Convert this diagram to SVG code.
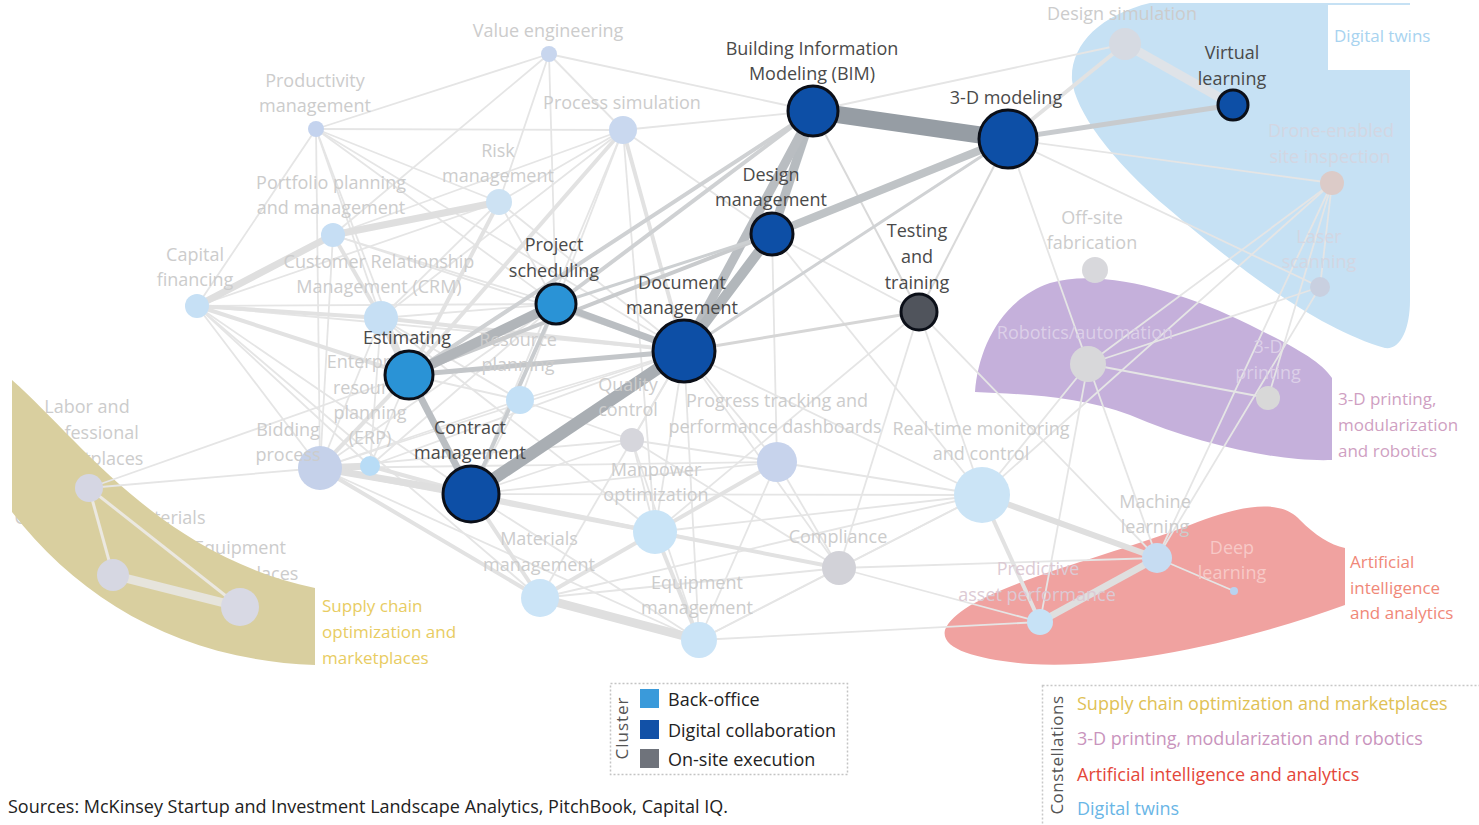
<svg xmlns="http://www.w3.org/2000/svg" width="1479" height="825" viewBox="0 0 1479 825">
<style>
text{font-family:"Open Sans","Noto Sans","DejaVu Sans",sans-serif}
.lb{font-size:18px;fill:#4a4a4a;text-anchor:middle}
.fl{font-size:18px;fill:#cccccc;text-anchor:middle}
.f1 line{stroke:#e5e5e5;stroke-width:1.8}
.f2 line{stroke:#e2e2e2;stroke-width:4}
.f3 line{stroke:#dfdfdf;stroke-width:7}
.mn{stroke-width:3;stroke:#0b0f18}
.fd{stroke:none}
.lg{font-size:18px;fill:#222}
.cl{font-size:17px}
</style>
<rect width="1479" height="825" fill="#ffffff"/>

<g id="hidden-labels">
<text class="fl" x="87" y="413">Labor and</text>
<text class="fl" x="87" y="439">professional</text>
<text class="fl" x="87" y="465">marketplaces</text>
<text class="fl" x="110" y="524">Construction materials</text>
<text class="fl" x="240" y="554">Equipment</text>
<text class="fl" x="242" y="580">marketplaces</text>
</g>

<g id="constellations">
<path id="c-supply" d="M12,380 C80,440 160,555 315,588 L315,665 C180,660 80,600 12,512 Z" fill="#d9cf9f"/>
<path id="c-digital" d="M1150,3 L1410,3 L1410,300 C1410,330 1400,350 1385,348 C1320,330 1240,270 1170,210 C1110,160 1075,110 1072,80 C1070,45 1100,15 1150,3 Z" fill="#c6e1f4"/>
<rect x="1328" y="5" width="82" height="65" fill="#ffffff"/>
<path id="c-print" d="M975,392 C978,350 1000,300 1050,283 C1100,268 1180,290 1250,325 C1290,345 1320,360 1332,378 L1332,460 C1280,462 1200,445 1130,415 C1080,396 1020,394 975,392 Z" fill="#c5b0db"/>
<path id="c-ai" d="M945,630 C960,590 1100,560 1190,525 C1240,505 1280,498 1300,520 C1315,535 1330,545 1345,548 L1345,605 C1250,640 1120,670 1030,664 C980,660 940,650 945,630 Z" fill="#f0a2a0"/>
</g>

<g id="connectors">
<g class="f1">
<line x1="316" y1="129" x2="549" y2="54"/>
<line x1="316" y1="129" x2="623" y2="130"/>
<line x1="316" y1="129" x2="499" y2="202"/>
<line x1="316" y1="129" x2="381" y2="318"/>
<line x1="316" y1="129" x2="197" y2="306"/>
<line x1="316" y1="129" x2="409" y2="375"/>
<line x1="316" y1="129" x2="684" y2="351"/>
<line x1="316" y1="129" x2="556" y2="304"/>
<line x1="316" y1="129" x2="320" y2="468"/>
<line x1="549" y1="54" x2="623" y2="130"/>
<line x1="549" y1="54" x2="813" y2="111"/>
<line x1="549" y1="54" x2="499" y2="202"/>
<line x1="549" y1="54" x2="333" y2="235"/>
<line x1="549" y1="54" x2="556" y2="304"/>
<line x1="623" y1="130" x2="813" y2="111"/>
<line x1="623" y1="130" x2="499" y2="202"/>
<line x1="623" y1="130" x2="556" y2="304"/>
<line x1="623" y1="130" x2="772" y2="234"/>
<line x1="623" y1="130" x2="381" y2="318"/>
<line x1="623" y1="130" x2="333" y2="235"/>
<line x1="623" y1="130" x2="471" y2="494"/>
<line x1="623" y1="130" x2="655" y2="532"/>
<line x1="499" y1="202" x2="556" y2="304"/>
<line x1="499" y1="202" x2="684" y2="351"/>
<line x1="499" y1="202" x2="197" y2="306"/>
<line x1="499" y1="202" x2="381" y2="318"/>
<line x1="333" y1="235" x2="684" y2="351"/>
<line x1="333" y1="235" x2="320" y2="468"/>
<line x1="333" y1="235" x2="556" y2="304"/>
<line x1="197" y1="306" x2="320" y2="468"/>
<line x1="197" y1="306" x2="471" y2="494"/>
<line x1="197" y1="306" x2="684" y2="351"/>
<line x1="197" y1="306" x2="556" y2="304"/>
<line x1="197" y1="306" x2="370" y2="466"/>
<line x1="197" y1="306" x2="540" y2="598"/>
<line x1="381" y1="318" x2="320" y2="468"/>
<line x1="381" y1="318" x2="556" y2="304"/>
<line x1="381" y1="318" x2="471" y2="494"/>
<line x1="381" y1="318" x2="370" y2="466"/>
<line x1="381" y1="318" x2="520" y2="400"/>
<line x1="381" y1="318" x2="655" y2="532"/>
<line x1="320" y1="468" x2="684" y2="351"/>
<line x1="320" y1="468" x2="89" y2="488"/>
<line x1="320" y1="468" x2="520" y2="400"/>
<line x1="320" y1="468" x2="556" y2="304"/>
<line x1="320" y1="468" x2="699" y2="640"/>
<line x1="320" y1="468" x2="632" y2="440"/>
<line x1="320" y1="468" x2="777" y2="462"/>
<line x1="89" y1="488" x2="409" y2="375"/>
<line x1="370" y1="466" x2="409" y2="375"/>
<line x1="370" y1="466" x2="684" y2="351"/>
<line x1="370" y1="466" x2="556" y2="304"/>
<line x1="520" y1="400" x2="409" y2="375"/>
<line x1="520" y1="400" x2="556" y2="304"/>
<line x1="520" y1="400" x2="684" y2="351"/>
<line x1="520" y1="400" x2="471" y2="494"/>
<line x1="520" y1="400" x2="632" y2="440"/>
<line x1="632" y1="440" x2="684" y2="351"/>
<line x1="632" y1="440" x2="471" y2="494"/>
<line x1="632" y1="440" x2="655" y2="532"/>
<line x1="632" y1="440" x2="777" y2="462"/>
<line x1="632" y1="440" x2="699" y2="640"/>
<line x1="632" y1="440" x2="839" y2="568"/>
<line x1="777" y1="462" x2="684" y2="351"/>
<line x1="777" y1="462" x2="699" y2="640"/>
<line x1="777" y1="462" x2="839" y2="568"/>
<line x1="777" y1="462" x2="982" y2="495"/>
<line x1="777" y1="462" x2="471" y2="494"/>
<line x1="777" y1="462" x2="772" y2="234"/>
<line x1="777" y1="462" x2="540" y2="598"/>
<line x1="655" y1="532" x2="684" y2="351"/>
<line x1="655" y1="532" x2="919" y2="312"/>
<line x1="655" y1="532" x2="982" y2="495"/>
<line x1="540" y1="598" x2="684" y2="351"/>
<line x1="540" y1="598" x2="839" y2="568"/>
<line x1="540" y1="598" x2="982" y2="495"/>
<line x1="699" y1="640" x2="684" y2="351"/>
<line x1="699" y1="640" x2="471" y2="494"/>
<line x1="699" y1="640" x2="982" y2="495"/>
<line x1="699" y1="640" x2="1040" y2="622"/>
<line x1="699" y1="640" x2="839" y2="568"/>
<line x1="839" y1="568" x2="684" y2="351"/>
<line x1="839" y1="568" x2="919" y2="312"/>
<line x1="839" y1="568" x2="1040" y2="622"/>
<line x1="839" y1="568" x2="1157" y2="558"/>
<line x1="839" y1="568" x2="471" y2="494"/>
<line x1="839" y1="568" x2="982" y2="495"/>
<line x1="982" y1="495" x2="1088" y2="364"/>
<line x1="982" y1="495" x2="919" y2="312"/>
<line x1="982" y1="495" x2="684" y2="351"/>
<line x1="982" y1="495" x2="772" y2="234"/>
<line x1="982" y1="495" x2="471" y2="494"/>
<line x1="982" y1="495" x2="1332" y2="183"/>
<line x1="1157" y1="558" x2="1088" y2="364"/>
<line x1="1157" y1="558" x2="1234" y2="591"/>
<line x1="1157" y1="558" x2="1320" y2="287"/>
<line x1="1157" y1="558" x2="1332" y2="183"/>
<line x1="1040" y1="622" x2="1088" y2="364"/>
<line x1="1088" y1="364" x2="1268" y2="398"/>
<line x1="1088" y1="364" x2="1320" y2="287"/>
<line x1="1088" y1="364" x2="1332" y2="183"/>
<line x1="1088" y1="364" x2="1008" y2="139"/>
<line x1="1332" y1="183" x2="1320" y2="287"/>
<line x1="1332" y1="183" x2="1008" y2="139"/>
<line x1="1320" y1="287" x2="1008" y2="139"/>
<line x1="1332" y1="183" x2="1268" y2="398"/>
<line x1="1125" y1="44" x2="813" y2="111"/>
<line x1="919" y1="312" x2="772" y2="234"/>
<line x1="919" y1="312" x2="1157" y2="558"/>
<line x1="89" y1="488" x2="113" y2="575" style="stroke:#ebe8e0;stroke-width:3"/>
<line x1="89" y1="488" x2="240" y2="607" style="stroke:#ebe8e0;stroke-width:3"/>
</g>
<g class="f2">
<line x1="333" y1="235" x2="381" y2="318"/>
<line x1="197" y1="306" x2="409" y2="375"/>
<line x1="623" y1="130" x2="409" y2="375"/>
<line x1="623" y1="130" x2="684" y2="351"/>
<line x1="499" y1="202" x2="409" y2="375"/>
<line x1="381" y1="318" x2="684" y2="351"/>
<line x1="320" y1="468" x2="409" y2="375"/>
<line x1="320" y1="468" x2="655" y2="532"/>
<line x1="320" y1="468" x2="540" y2="598"/>
<line x1="370" y1="466" x2="471" y2="494"/>
<line x1="655" y1="532" x2="699" y2="640"/>
<line x1="655" y1="532" x2="839" y2="568"/>
<line x1="655" y1="532" x2="471" y2="494"/>
<line x1="777" y1="462" x2="655" y2="532"/>
<line x1="540" y1="598" x2="471" y2="494"/>
<line x1="540" y1="598" x2="655" y2="532"/>
<line x1="982" y1="495" x2="1040" y2="622"/>
<line x1="1125" y1="44" x2="1008" y2="139"/>
<line x1="197" y1="306" x2="381" y2="318"/>
</g>
<g class="f3">
<line x1="333" y1="235" x2="499" y2="202"/>
<line x1="333" y1="235" x2="197" y2="306"/>
<line x1="381" y1="318" x2="409" y2="375"/>
<line x1="320" y1="468" x2="370" y2="466"/>
<line x1="320" y1="468" x2="471" y2="494"/>
<line x1="113" y1="575" x2="240" y2="607" style="stroke:#e6e4dc;stroke-width:9"/>
<line x1="540" y1="598" x2="699" y2="640" style="stroke-width:9"/>
<line x1="982" y1="495" x2="1157" y2="558" style="stroke-width:6"/>
<line x1="1157" y1="558" x2="1040" y2="622"/>
<line x1="1125" y1="44" x2="1233" y2="105" style="stroke:#dfe3e8;stroke-width:9"/>
</g>
<g id="main-connectors" fill="none">
<line x1="813" y1="111" x2="1008" y2="139" stroke="#969da4" stroke-width="17"/>
<line x1="813" y1="111" x2="772" y2="234" stroke="#b6bbbf" stroke-width="9"/>
<line x1="813" y1="111" x2="684" y2="351" stroke="#b9bdc1" stroke-width="9"/>
<line x1="813" y1="111" x2="556" y2="304" stroke="#cfd1d3" stroke-width="4"/>
<line x1="813" y1="111" x2="409" y2="375" stroke="#cfd1d3" stroke-width="4"/>
<line x1="813" y1="111" x2="919" y2="312" stroke="#d9d9d9" stroke-width="2"/>
<line x1="1008" y1="139" x2="772" y2="234" stroke="#bfc3c6" stroke-width="8"/>
<line x1="1008" y1="139" x2="1233" y2="105" stroke="#c8cbce" stroke-width="5"/>
<line x1="1008" y1="139" x2="684" y2="351" stroke="#d0d2d4" stroke-width="3"/>
<line x1="1008" y1="139" x2="919" y2="312" stroke="#d9d9d9" stroke-width="2"/>
<line x1="772" y1="234" x2="684" y2="351" stroke="#b2b7bb" stroke-width="10"/>
<line x1="772" y1="234" x2="409" y2="375" stroke="#c9cbcd" stroke-width="4"/>
<line x1="772" y1="234" x2="556" y2="304" stroke="#cdd0d2" stroke-width="3"/>
<line x1="684" y1="351" x2="471" y2="494" stroke="#a9aeb3" stroke-width="12"/>
<line x1="684" y1="351" x2="556" y2="304" stroke="#babec2" stroke-width="7"/>
<line x1="684" y1="351" x2="409" y2="375" stroke="#c3c6c9" stroke-width="5"/>
<line x1="684" y1="351" x2="919" y2="312" stroke="#d6d6d6" stroke-width="3"/>
<line x1="409" y1="375" x2="556" y2="304" stroke="#b1b5b9" stroke-width="10"/>
<line x1="409" y1="375" x2="471" y2="494" stroke="#babec2" stroke-width="7"/>
<line x1="556" y1="304" x2="471" y2="494" stroke="#c9cccf" stroke-width="4"/>
</g>
</g>

<g id="faded-nodes">
<g id="n-value-engineering"><circle class="fd" cx="549" cy="54" r="8" fill="#c8d6ee"/></g>
<g id="n-productivity"><circle class="fd" cx="316" cy="129" r="8" fill="#c4d3ee"/></g>
<g id="n-process-sim"><circle class="fd" cx="623" cy="130" r="14" fill="#c9d8ef"/></g>
<g id="n-risk"><circle class="fd" cx="499" cy="202" r="13" fill="#cde2f3"/></g>
<g id="n-portfolio"><circle class="fd" cx="333" cy="235" r="12" fill="#c6def4"/></g>
<g id="n-capital"><circle class="fd" cx="197" cy="306" r="12" fill="#c6e0f5"/></g>
<g id="n-crm"><circle class="fd" cx="381" cy="318" r="17" fill="#c6dff4"/></g>
<g id="n-erp"><circle class="fd" cx="370" cy="466" r="10" fill="#b8dcf6"/></g>
<g id="n-bidding"><circle class="fd" cx="320" cy="468" r="22" fill="#c5d1ea"/></g>
<g id="n-resource"><circle class="fd" cx="520" cy="400" r="14" fill="#c3e0f6"/></g>
<g id="n-quality"><circle class="fd" cx="632" cy="440" r="12" fill="#d6d6dc"/></g>
<g id="n-progress"><circle class="fd" cx="777" cy="462" r="20" fill="#c7d3ec"/></g>
<g id="n-manpower"><circle class="fd" cx="655" cy="532" r="22" fill="#c9e4f7"/></g>
<g id="n-materials"><circle class="fd" cx="540" cy="598" r="19" fill="#cbe4f7"/></g>
<g id="n-equipment-mgmt"><circle class="fd" cx="699" cy="640" r="18" fill="#cbe4f7"/></g>
<g id="n-compliance"><circle class="fd" cx="839" cy="568" r="17" fill="#d2d2d8"/></g>
<g id="n-realtime"><circle class="fd" cx="982" cy="495" r="28" fill="#cbe4f6"/></g>
<g id="n-offsite"><circle class="fd" cx="1095" cy="270" r="13" fill="#d8d8dc"/></g>
<g id="n-design-sim"><circle class="fd" cx="1125" cy="44" r="16" fill="#d6dae2"/></g>
<g id="n-drone"><circle class="fd" cx="1332" cy="183" r="12" fill="#dccbc8"/></g>
<g id="n-laser"><circle class="fd" cx="1320" cy="287" r="10" fill="#c9d0e0"/></g>
<g id="n-robotics"><circle class="fd" cx="1088" cy="364" r="18" fill="#d8d8da"/></g>
<g id="n-3dprinting"><circle class="fd" cx="1268" cy="398" r="12" fill="#d8d8d8"/></g>
<g id="n-machine"><circle class="fd" cx="1157" cy="558" r="15" fill="#c6dcf2"/></g>
<g id="n-deep"><circle class="fd" cx="1234" cy="591" r="4" fill="#b9d3f0"/></g>
<g id="n-predictive"><circle class="fd" cx="1040" cy="622" r="13" fill="#c7e2f6"/></g>
<g id="n-labor"><circle class="fd" cx="89" cy="488" r="14" fill="#d5d6e3"/></g>
<g id="n-construction-materials"><circle class="fd" cx="113" cy="575" r="16" fill="#d6d7e2"/></g>
<g id="n-equipment-market"><circle class="fd" cx="240" cy="607" r="19" fill="#d8d9e4"/></g>
</g>

<g id="faded-labels">
<text class="fl" x="548" y="37">Value engineering</text>
<text class="fl" x="315" y="87">Productivity</text>
<text class="fl" x="315" y="112">management</text>
<text class="fl" x="622" y="109">Process simulation</text>
<text class="fl" x="498" y="157">Risk</text>
<text class="fl" x="498" y="182">management</text>
<text class="fl" x="331" y="189">Portfolio planning</text>
<text class="fl" x="331" y="214">and management</text>
<text class="fl" x="195" y="261">Capital</text>
<text class="fl" x="195" y="286">financing</text>
<text class="fl" x="379" y="268">Customer Relationship</text>
<text class="fl" x="379" y="293">Management (CRM)</text>
<text class="fl" x="370" y="368">Enterprise</text>
<text class="fl" x="370" y="394">resource</text>
<text class="fl" x="370" y="419">planning</text>
<text class="fl" x="370" y="444">(ERP)</text>
<text class="fl" x="288" y="436">Bidding</text>
<text class="fl" x="288" y="461">process</text>
<text class="fl" x="518" y="346">Resource</text>
<text class="fl" x="518" y="371">planning</text>
<text class="fl" x="628" y="391">Quality</text>
<text class="fl" x="628" y="416">control</text>
<text class="fl" x="777" y="407">Progress tracking and</text>
<text class="fl" x="775" y="433">performance dashboards</text>
<text class="fl" x="981" y="435">Real-time monitoring</text>
<text class="fl" x="981" y="460">and control</text>
<text class="fl" x="656" y="476">Manpower</text>
<text class="fl" x="656" y="501">optimization</text>
<text class="fl" x="539" y="545">Materials</text>
<text class="fl" x="539" y="571">management</text>
<text class="fl" x="697" y="589">Equipment</text>
<text class="fl" x="697" y="614">management</text>
<text class="fl" x="838" y="543">Compliance</text>
<text class="fl" x="1092" y="224">Off-site</text>
<text class="fl" x="1092" y="249">fabrication</text>
<text class="fl" x="1122" y="20">Design simulation</text>
<text class="fl" x="1331" y="137" style="fill:#d3d6e2">Drone-enabled</text>
<text class="fl" x="1330" y="163" style="fill:#d3d6e2">site inspection</text>
<text class="fl" x="1319" y="243" style="fill:#d3d6e2">Laser</text>
<text class="fl" x="1319" y="268" style="fill:#d3d6e2">scanning</text>
<text class="fl" x="1085" y="339" style="fill:#dccfe8">Robotics/automation</text>
<text class="fl" x="1268" y="353" style="fill:#dccfe8">3-D</text>
<text class="fl" x="1268" y="379" style="fill:#dccfe8">printing</text>
<text class="fl" x="1155" y="508">Machine</text>
<text class="fl" x="1155" y="533">learning</text>
<text class="fl" x="1232" y="554" style="fill:#f7c9c7">Deep</text>
<text class="fl" x="1232" y="579" style="fill:#f7c9c7">learning</text>
<text class="fl" x="1038" y="575" style="fill:#dccad4">Predictive</text>
<text class="fl" x="1037" y="601" style="fill:#dccad4">asset performance</text>
</g>

<g id="constellation-labels" class="cl">
<text x="1334" y="42" fill="#a8d3f0" font-size="17">Digital twins</text>
<text x="322" y="612" fill="#e8cc62">Supply chain</text>
<text x="322" y="638" fill="#e8cc62">optimization and</text>
<text x="322" y="664" fill="#e8cc62">marketplaces</text>
<text x="1338" y="405" fill="#cf9fc2">3-D printing,</text>
<text x="1338" y="431" fill="#cf9fc2">modularization</text>
<text x="1338" y="457" fill="#cf9fc2">and robotics</text>
<text x="1350" y="568" fill="#f08878">Artificial</text>
<text x="1350" y="594" fill="#f08878">intelligence</text>
<text x="1350" y="619" fill="#f08878">and analytics</text>
</g>

<g id="main-nodes">
<g id="n-bim"><circle class="mn" cx="813" cy="111" r="25" fill="#0d4fa6"/>
<text class="lb" x="812" y="55">Building Information</text><text class="lb" x="812" y="80">Modeling (BIM)</text></g>
<g id="n-3d-modeling"><circle class="mn" cx="1008" cy="139" r="29" fill="#0d4fa6"/>
<text class="lb" x="1006" y="104">3-D modeling</text></g>
<g id="n-virtual-learning"><circle class="mn" cx="1233" cy="105" r="15" fill="#0d4fa6"/>
<text class="lb" x="1232" y="59">Virtual</text><text class="lb" x="1232" y="85">learning</text></g>
<g id="n-design-mgmt"><circle class="mn" cx="772" cy="234" r="21" fill="#0d4fa6"/>
<text class="lb" x="771" y="181">Design</text><text class="lb" x="771" y="206">management</text></g>
<g id="n-testing"><circle class="mn" cx="919" cy="312" r="18" fill="#50545c"/>
<text class="lb" x="917" y="237">Testing</text><text class="lb" x="917" y="263">and</text><text class="lb" x="917" y="289">training</text></g>
<g id="n-project-scheduling"><circle class="mn" cx="556" cy="304" r="20" fill="#2a93d6"/>
<text class="lb" x="554" y="251">Project</text><text class="lb" x="554" y="277">scheduling</text></g>
<g id="n-document-mgmt"><circle class="mn" cx="684" cy="351" r="31" fill="#0d4fa6"/>
<text class="lb" x="682" y="289">Document</text><text class="lb" x="682" y="314">management</text></g>
<g id="n-estimating"><circle class="mn" cx="409" cy="375" r="24" fill="#2a93d6"/>
<text class="lb" x="407" y="344">Estimating</text></g>
<g id="n-contract-mgmt"><circle class="mn" cx="471" cy="494" r="28" fill="#0d4fa6"/>
<text class="lb" x="470" y="434">Contract</text><text class="lb" x="470" y="459">management</text></g>
</g>

<g id="legend-cluster">
<rect x="610.5" y="683.5" width="237" height="91" fill="#ffffff" stroke="#c4c4c4" stroke-width="1.5" stroke-dasharray="2,2"/>
<text x="630" y="728" font-size="17" text-anchor="middle" letter-spacing="1" transform="rotate(-90 630 728)" dy="-2" style="fill:#555">Cluster</text>
<rect x="640" y="689" width="19" height="19" fill="#3a9ada"/>
<rect x="640" y="720" width="19" height="19" fill="#1251a7"/>
<rect x="640" y="749" width="19" height="19" fill="#6f737b"/>
<text class="lg" x="668" y="706">Back-office</text>
<text class="lg" x="668" y="737">Digital collaboration</text>
<text class="lg" x="668" y="766">On-site execution</text>
</g>

<g id="legend-constellations">
<rect x="1042.5" y="685.5" width="440" height="145" fill="#ffffff" stroke="#c8c8c8" stroke-width="1.5" stroke-dasharray="2,2"/>
<text x="1063" y="755" font-size="17" text-anchor="middle" letter-spacing="0.5" transform="rotate(-90 1063 755)" style="fill:#555">Constellations</text>
<text class="lg" x="1077" y="710" style="fill:#e0c155">Supply chain optimization and marketplaces</text>
<text class="lg" x="1077" y="745" style="fill:#c994bd">3-D printing, modularization and robotics</text>
<text class="lg" x="1077" y="781" style="fill:#e4473a">Artificial intelligence and analytics</text>
<text class="lg" x="1077" y="815" style="fill:#6ab6e6">Digital twins</text>
</g>

<text id="source" class="lg" x="8" y="813">Sources: McKinsey Startup and Investment Landscape Analytics, PitchBook, Capital IQ.</text>
</svg>
